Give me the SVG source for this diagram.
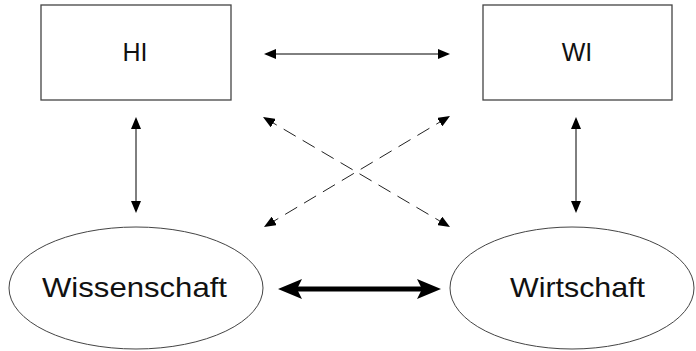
<svg xmlns="http://www.w3.org/2000/svg" width="696" height="351" viewBox="0 0 696 351">
<style>
.box{fill:#fff;stroke:#444;stroke-width:1.3}
.ell{fill:#fff;stroke:#444;stroke-width:1}
.t{font-family:"Liberation Sans",Arial,sans-serif;fill:#111;text-anchor:middle}
.thin{stroke:#000;stroke-width:1;fill:none}
.dash{stroke:#222;stroke-width:1;fill:none;stroke-dasharray:14 8}
.thick{stroke:#000;stroke-width:5;fill:none}
</style>
<defs>
<marker id="ah" markerWidth="12" markerHeight="10" refX="10" refY="5" orient="auto-start-reverse" markerUnits="userSpaceOnUse">
<path d="M0,0 L12,5 L0,10 Z" fill="#000"/>
</marker>
<marker id="ahb" markerWidth="24" markerHeight="20" refX="12" refY="10" orient="auto-start-reverse" markerUnits="userSpaceOnUse">
<path d="M0,0 L24,10 L0,20 L5,10 Z" fill="#000"/>
</marker>
</defs>
<g id="HI"><rect class="box" x="41" y="5" width="190" height="95"/><text class="t" x="135" y="61" font-size="25">HI</text></g>
<g id="WI"><rect class="box" x="483" y="5" width="189" height="95"/><text class="t" x="577" y="61" font-size="25">WI</text></g>
<g id="Wissenschaft"><ellipse class="ell" cx="136" cy="288" rx="127" ry="61"/><text class="t" x="134.5" y="297" font-size="28" textLength="185" lengthAdjust="spacingAndGlyphs">Wissenschaft</text></g>
<g id="Wirtschaft"><ellipse class="ell" cx="572" cy="288" rx="122" ry="61"/><text class="t" x="577.5" y="297" font-size="28" textLength="135" lengthAdjust="spacingAndGlyphs">Wirtschaft</text></g>
<g id="connectors">
<line class="thin" x1="266" y1="54" x2="448" y2="54" marker-start="url(#ah)" marker-end="url(#ah)"/>
<line class="thin" x1="136" y1="119" x2="136" y2="211" marker-start="url(#ah)" marker-end="url(#ah)"/>
<line class="thin" x1="576" y1="119" x2="576" y2="211" marker-start="url(#ah)" marker-end="url(#ah)"/>
<line class="dash" x1="264.7" y1="118" x2="448.3" y2="226" marker-start="url(#ah)" marker-end="url(#ah)"/>
<line class="dash" x1="448.3" y1="117" x2="265.7" y2="226" marker-start="url(#ah)" marker-end="url(#ah)"/>
<line class="thick" x1="290" y1="289" x2="429" y2="289" marker-start="url(#ahb)" marker-end="url(#ahb)"/>
</g>
</svg>
